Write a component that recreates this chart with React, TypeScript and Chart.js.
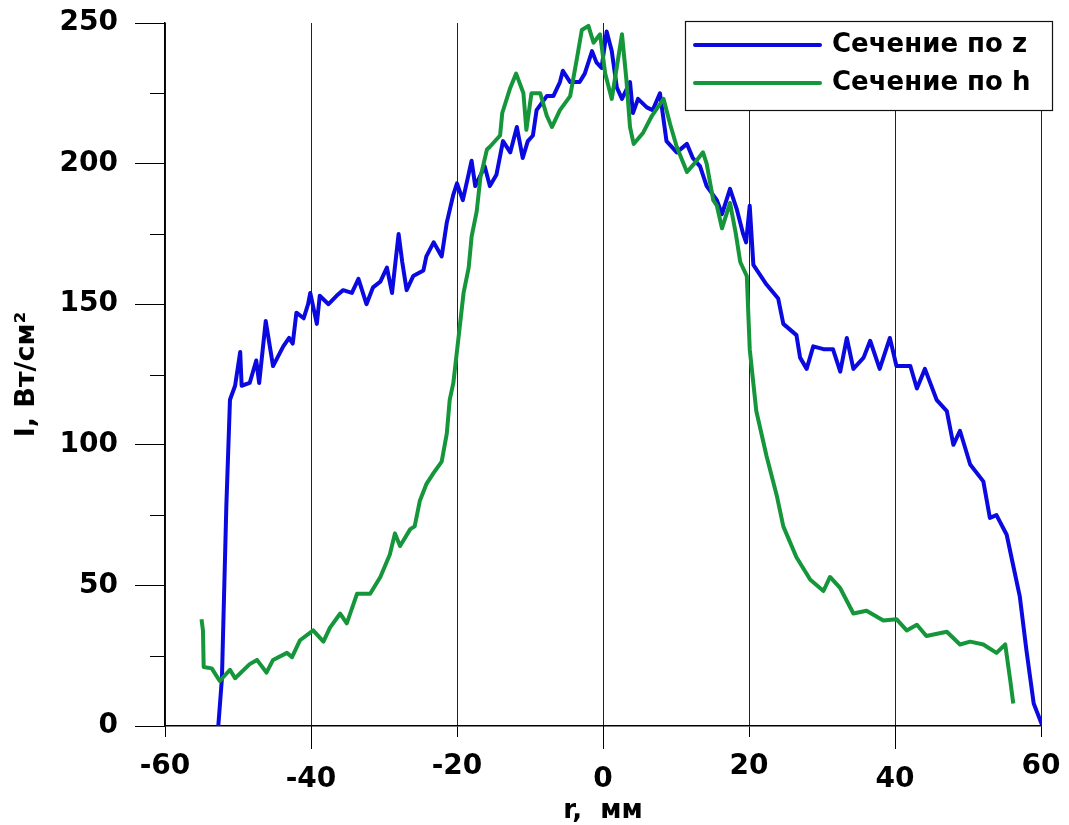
import React, { useEffect, useRef } from "react";
import { Chart, registerables } from "chart.js";

Chart.register(...registerables);

// ---- data ----
const seriesNames = ["Сечение по z", "Сечение по h"];

const rZ = [
  -52.7, -52.2, -51.6, -51.1, -50.4, -49.7, -49.5, -48.4, -47.5, -47.1, -46.2, -45.2, -43.8, -43.0, -42.5,
  -42.0, -41.0, -40.4, -40.1, -39.2, -38.8, -37.6, -36.5, -35.6, -34.4, -33.5, -32.4, -31.5, -30.5, -29.6,
  -28.9, -28.0, -27.5, -26.9, -26.0, -24.6, -24.2, -23.2, -22.1, -21.4, -20.5, -20.0, -19.2, -18.0, -17.5,
  -16.2, -15.5, -14.6, -13.7, -12.7, -11.8, -11.0, -10.3, -9.6, -9.1, -7.7, -6.8, -5.9, -5.5, -4.5, -3.2,
  -2.5, -1.5, -0.9, -0.2, 0.5, 1.2, 1.9, 2.6, 3.7, 4.1, 4.8, 6.0, 6.8, 7.8, 8.7, 10.1, 11.5, 12.3, 13.3,
  14.2, 15.6, 16.3, 17.4, 18.3, 19.2, 19.6, 20.1, 20.6, 22.4, 24.0, 24.7, 26.5, 27.0, 27.9, 28.8, 30.2,
  31.5, 32.5, 33.4, 34.3, 35.7, 36.6, 37.9, 39.3, 40.2, 42.1, 43.0, 44.1, 45.7, 47.1, 48.0, 48.9, 50.3,
  52.1, 53.0, 53.9, 55.3, 56.2, 57.1, 58.0, 59.0, 60.2,
];
const iZ = [
  0, 17, 78, 116, 121, 133, 121, 122, 130, 122, 144, 128, 135, 138, 136,
  147, 145, 150, 154, 143, 153, 150, 153, 155, 154, 159, 150, 156, 158, 163,
  154, 175, 165, 155, 160, 162, 167, 172, 167, 179, 189, 193, 187, 201, 192,
  199, 192, 196, 208, 204, 213, 202, 208, 210, 219, 224, 224, 229, 233, 229, 229,
  232, 240, 236, 234, 247, 240, 227, 223, 229, 218, 223, 220, 219, 225, 208, 204, 207, 202, 199,
  192, 187, 182, 191, 184, 175, 172, 185, 164, 157, 152, 143, 139, 131, 127, 135, 134,
  134, 126, 138, 127, 131, 137, 127, 138, 128, 128, 120, 127, 116, 112, 100, 105, 93,
  87, 74, 75, 68, 57, 46, 27, 8, 0,
];

const rH = [
  -55.0, -54.8, -54.7, -53.6, -52.5, -51.1, -50.4, -48.4, -47.4, -46.1, -45.2, -43.3, -42.6, -41.5, -39.7,
  -38.3, -37.4, -36.0, -35.1, -33.7, -31.9, -30.5, -29.2, -28.5, -27.8, -26.4, -25.8, -25.1, -24.2, -23.2,
  -22.1, -21.4, -21.0, -20.5, -19.8, -19.1, -18.4, -18.0, -17.3, -16.8, -15.9, -15.5, -14.1, -13.8, -12.7,
  -11.9, -10.9, -10.5, -9.8, -8.6, -7.7, -7.0, -5.9, -4.5, -3.6, -2.9, -2.0, -1.3, -0.4, 0.3, 1.2, 1.9,
  2.6, 3.2, 3.7, 4.2, 5.5, 6.7, 8.3, 9.2, 10.1, 11.5, 12.5, 13.7, 14.2, 15.1, 15.6, 16.3, 17.4, 18.2,
  18.8, 19.7, 20.1, 21.0, 22.4, 23.8, 24.7, 26.5, 28.4, 30.2, 31.1, 32.5, 34.3, 36.1, 38.4, 40.2, 41.6,
  43.0, 44.3, 47.1, 48.9, 50.3, 52.1, 53.9, 55.1, 55.8, 56.2,
];
const iH = [
  38, 34, 21, 20.5, 16, 20, 17, 22, 23.5, 19, 23.5, 26, 24.5, 30.5, 34,
  30, 35, 40, 36.5, 47, 47, 53, 61, 68.5, 64, 70, 71, 80, 86, 90,
  94, 104, 116, 122, 138, 154, 163, 174, 183, 195, 205, 206, 210, 218, 227,
  232, 225, 212, 225, 225, 217, 213, 219, 224, 237, 247.5, 249, 243, 246, 232, 223, 234.5,
  246, 230, 213, 207, 211, 217, 223, 214, 206, 197, 200, 204, 200, 187, 185, 177, 186, 175,
  165, 160, 134, 112, 96, 82, 71, 60, 52, 48, 53, 49, 40, 41, 37.5, 38, 34,
  36, 32, 33.5, 29, 30, 29, 26, 29, 16, 8,
];

const xTicks = [-60, -40, -20, 0, 20, 40, 60];
const xTicksLowered = [-40, 0, 40];
const yTicks = [0, 50, 100, 150, 200, 250];
const yMinorTicks = [25, 75, 125, 175, 225];

const xTitle = "r,  мм";
const yTitle = "I, Вт/см²";

const colors = ["#0a0ae0", "#15963a"];
const FONT = "'DejaVu Sans', sans-serif";

const zeroPad = (s: any) => {
  s.paddingTop = 0;
  s.paddingBottom = 0;
  s.paddingLeft = 0;
  s.paddingRight = 0;
};

const extrasPlugin = {
  id: "extras",
  afterDraw(chart: any) {
    const { ctx, chartArea, scales } = chart;
    const xs = scales.x;
    const ys = scales.y;
    ctx.save();
    ctx.strokeStyle = "#000";
    ctx.lineWidth = 1;
    // minor y ticks
    yMinorTicks.forEach((v) => {
      const py = Math.round(ys.getPixelForValue(v)) + 0.5;
      ctx.beginPath();
      ctx.moveTo(chartArea.left - 15, py);
      ctx.lineTo(chartArea.left, py);
      ctx.stroke();
    });
    // longer x ticks
    xTicksLowered.forEach((v) => {
      const px = Math.round(xs.getPixelForValue(v)) + 0.5;
      ctx.beginPath();
      ctx.moveTo(px, chartArea.bottom);
      ctx.lineTo(px, chartArea.bottom + 23);
      ctx.stroke();
    });
    // legend box
    const bx = chartArea.left + 520;
    const by = chartArea.top - 2;
    const bw = 367;
    const bh = 89;
    ctx.fillStyle = "#fff";
    ctx.fillRect(bx, by, bw, bh);
    ctx.strokeStyle = "#111";
    ctx.lineWidth = 1.2;
    ctx.strokeRect(bx + 0.5, by + 0.5, bw, bh);
    const rows = [by + 24, by + 62];
    chart.data.datasets.forEach((ds: any, i: number) => {
      ctx.strokeStyle = ds.borderColor;
      ctx.lineWidth = 4;
      ctx.lineCap = "round";
      ctx.beginPath();
      ctx.moveTo(bx + 10, rows[i]);
      ctx.lineTo(bx + 135, rows[i]);
      ctx.stroke();
      ctx.fillStyle = "#000";
      ctx.font = `bold 26px ${FONT}`;
      ctx.textBaseline = "middle";
      ctx.textAlign = "left";
      ctx.fillText(ds.label, bx + 147, rows[i]);
    });
    ctx.restore();
  },
};

export default function App() {
  const ref = useRef<HTMLCanvasElement | null>(null);

  useEffect(() => {
    if (!ref.current) return;
    const chart = new Chart(ref.current, {
      type: "line",
      data: {
        datasets: [
          {
            label: seriesNames[0],
            data: rZ.map((x, i) => ({ x, y: iZ[i] })),
            borderColor: colors[0],
            backgroundColor: colors[0],
            borderWidth: 4,
            pointRadius: 0,
            tension: 0,
            borderJoinStyle: "round",
            order: 1,
          },
          {
            label: seriesNames[1],
            data: rH.map((x, i) => ({ x, y: iH[i] })),
            borderColor: colors[1],
            backgroundColor: colors[1],
            borderWidth: 4,
            pointRadius: 0,
            tension: 0,
            borderJoinStyle: "round",
            order: 0,
          },
        ],
      },
      options: {
        animation: false,
        responsive: false,
        devicePixelRatio: 1,
        layout: { autoPadding: false, padding: { left: 0, right: 28, top: 23, bottom: 0 } },
        plugins: {
          legend: { display: false },
          tooltip: { enabled: false },
        },
        scales: {
          x: {
            type: "linear",
            min: -60,
            max: 60,
            afterBuildTicks: (s: any) => {
              s.ticks = xTicks.map((v) => ({ value: v }));
            },
            afterFit: (s: any) => {
              s.height = 99;
              zeroPad(s);
            },
            ticks: {
              autoSkip: false,
              maxRotation: 0,
              color: "#000",
              padding: 23,
              font: { family: FONT, size: 28, weight: "bold", lineHeight: "13px" },
              callback: (v: any) => (xTicksLowered.includes(v) ? ["", String(v)] : String(v)),
            },
            grid: {
              color: "#222",
              lineWidth: 1,
              tickLength: 11,
              tickColor: "#000",
            },
            border: { display: true, color: "#000", width: 1.5 },
            title: {
              display: true,
              text: xTitle,
              color: "#000",
              font: { family: FONT, size: 26, weight: "bold", lineHeight: 1 },
              padding: { top: 0, bottom: 1 },
            },
          },
          y: {
            type: "linear",
            min: 0,
            max: 250,
            afterBuildTicks: (s: any) => {
              s.ticks = yTicks.map((v) => ({ value: v }));
            },
            afterFit: (s: any) => {
              s.width = 165;
              zeroPad(s);
            },
            ticks: {
              color: "#000",
              padding: 17,
              font: { family: FONT, size: 28, weight: "bold" },
              callback: (v: any) => String(v),
            },
            grid: {
              drawOnChartArea: false,
              tickLength: 30,
              tickColor: "#000",
              color: "#000",
            },
            border: { display: true, color: "#000", width: 1.5 },
            title: {
              display: true,
              text: yTitle,
              color: "#000",
              font: { family: FONT, size: 27, weight: "bold", lineHeight: 1.2 },
              padding: { top: 11, bottom: 0 },
            },
          },
        },
      },
      plugins: [extrasPlugin],
    } as any);
    return () => chart.destroy();
  }, []);

  return (
    <div style={{ position: "fixed", left: 0, top: 0, width: 1069, height: 825, background: "#fff" }}>
      <canvas ref={ref} width={1069} height={825} />
    </div>
  );
}
